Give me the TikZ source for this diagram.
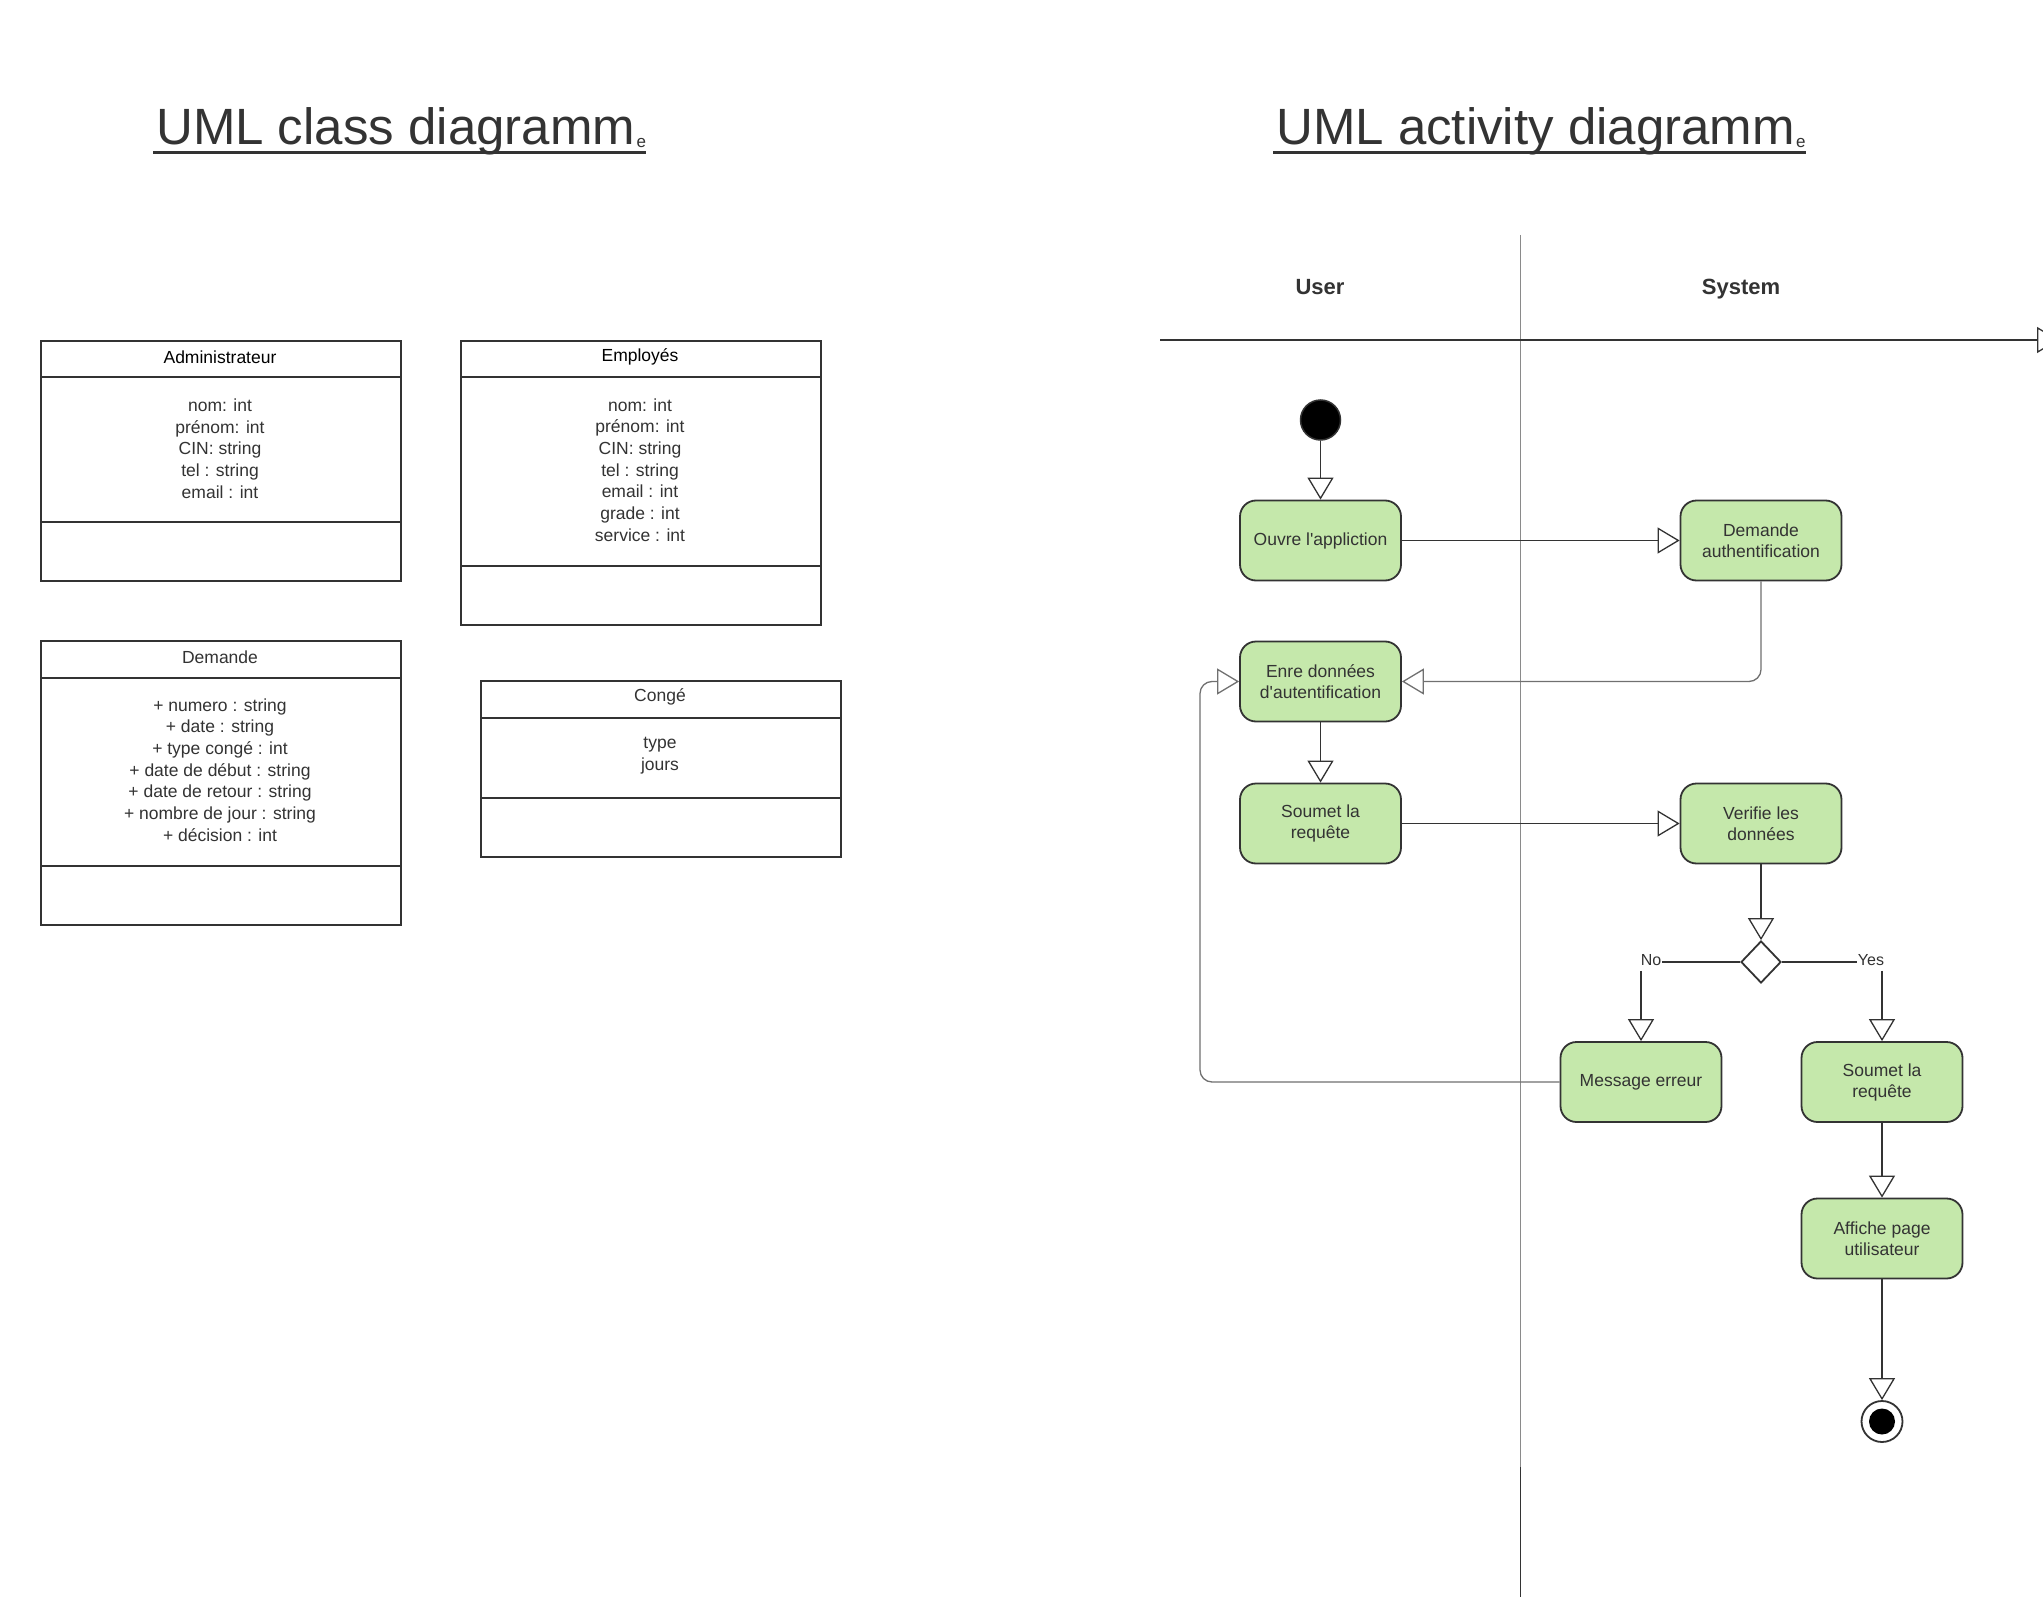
\documentclass[tikz,border=0pt]{standalone}
\usepackage{fontspec}
\setmainfont{Liberation Sans}[Ligatures=TeXOff]
\usetikzlibrary{arrows.meta,shapes.geometric,calc}
\definecolor{dk}{HTML}{333333}
\definecolor{actgreen}{HTML}{C5E8AB}
\definecolor{lanegray}{HTML}{8A8A8A}
\definecolor{retgray}{HTML}{707070}
\begin{document}
\begin{tikzpicture}[x=1pt,y=-1pt,
  titlefont/.style={font=\fontsize{51}{56}\selectfont, text=dk, inner sep=0pt},
  subfont/.style={font=\fontsize{17}{18}\selectfont, text=dk, inner sep=0pt},
  classbox/.style={draw=dk, line width=1.8pt, anchor=north west, inner sep=0pt},
  classhead/.style={font=\fontsize{17.5}{21.7}\selectfont, text=black, inner sep=0pt},
  classattr/.style={font=\fontsize{17.5}{21.7}\selectfont, text=dk, align=center, inner sep=0pt},
  lane/.style={font=\fontsize{22}{26}\selectfont\bfseries, text=dk, anchor=base},
  act/.style={draw=dk, line width=1.8pt, fill=actgreen, rounded corners=16pt,
    minimum width=161pt, minimum height=80pt, align=center, inner sep=2pt,
    font=\fontsize{17.5}{21}\selectfont, text=dk},
  arr/.style={draw=dk, line width=1.3pt, -{Triangle[length=22pt,width=26pt,fill=white]}},
  garr/.style={draw=retgray, line width=1.3pt, rounded corners=12pt, -{Triangle[length=22pt,width=26pt,fill=white]}},
  plain/.style={draw=dk, line width=1.3pt},
  elabel/.style={font=\fontsize{16}{18}\selectfont, text=dk, inner sep=1pt},
]
\useasboundingbox (0,0) rectangle (2043,1597);
\clip (0,0) rectangle (2043,1597);
\fill[white] (0,0) rectangle (2043,1597);

% ---------- titles ----------
\node[titlefont, anchor=base west] (t1) at (156,145) {UML class diagramm};
\node[subfont, anchor=base west] (t1e) at ($(t1.base east)+(1,3)$) {e};
\draw[dk, line width=3pt] ($(t1.base west)+(-3,8)$) -- ($(t1e.base east)+(0,5)$);

\node[titlefont, anchor=base west] (t2) at (1276,145) {UML activity diagramm};
\node[subfont, anchor=base west] (t2e) at ($(t2.base east)+(1,3)$) {e};
\draw[dk, line width=3pt] ($(t2.base west)+(-3,8)$) -- ($(t2e.base east)+(0,5)$);

% ---------- class diagram ----------
% Administrateur
\node[classbox, minimum width=360pt, minimum height=240pt] (adm) at (40,340) {};
\draw[dk, line width=1.8pt] (40,377) -- (400,377);
\draw[dk, line width=1.8pt] (40,522) -- (400,522);
\node[classhead] (admh) at (220,357) {Administrateur};
\node[classattr] (adma) at (220,448.5) {nom: int\\prénom: int\\CIN: string\\tel : string\\email : int};

% Employes
\node[classbox, minimum width=360pt, minimum height=284pt] (emp) at (460,340) {};
\draw[dk, line width=1.8pt] (460,377) -- (820,377);
\draw[dk, line width=1.8pt] (460,566) -- (820,566);
\node[classhead] (emph) at (640,357) {Employés};
\node[classattr] (empa) at (640,470) {nom: int\\prénom: int\\CIN: string\\tel : string\\email : int\\grade : int\\service : int};

% Demande
\node[classbox, minimum width=360pt, minimum height=284pt] (dem) at (40,640) {};
\draw[dk, line width=1.8pt] (40,678) -- (400,678);
\draw[dk, line width=1.8pt] (40,866) -- (400,866);
\node[classhead, text=dk] (demh) at (220,657) {Demande};
\node[classattr] (dema) at (220,770) {+ numero : string\\+ date : string\\+ type congé : int\\+ date de début : string\\+ date de retour : string\\+ nombre de jour : string\\+ décision : int};

% Conge
\node[classbox, minimum width=360pt, minimum height=176pt] (cng) at (480,680) {};
\draw[dk, line width=1.8pt] (480,718) -- (840,718);
\draw[dk, line width=1.8pt] (480,798) -- (840,798);
\node[classhead, text=dk] (cngh) at (660,697) {Congé};
\node[classattr] (cnga) at (660,756) {type\\jours};

% ---------- activity diagram: swimlanes ----------
\coordinate (vtop) at (1520.5,235);
\coordinate (vmid) at (1520.5,1467);
\coordinate (vbot) at (1520.5,1600);
\draw[lanegray, line width=1.2pt] (vtop) -- (vmid);
\draw[dk, line width=1.3pt] (vmid) -- (vbot);
\coordinate (hl) at (1160,340);
\coordinate (hr) at (2059,340);
\draw[arr] (hl) -- (hr);
\node[lane] (user) at (1320,295) {User};
\node[lane] (system) at (1741,295) {System};

% ---------- activity nodes ----------
\node[circle, fill=black, draw=dk, line width=1.5pt, minimum size=40pt, inner sep=0pt] (init) at (1320.5,420) {};
\node[act] (ouvre) at (1320.5,540.5) {Ouvre l'appliction};
\node[act] (demauth) at (1761,540.5) {Demande\\authentification};
\node[act] (enre) at (1320.5,681.5) {Enre données\\d'autentification};
\node[act] (soumet1) at (1320.5,823.5) {Soumet la\\requête};
\node[act] (verif) at (1761,823.5) {Verifie les\\données};
\node[diamond, draw=dk, line width=1.8pt, fill=white, minimum width=40pt, minimum height=42pt, inner sep=0pt] (dec) at (1761,962) {};
\node[act] (msg) at (1641,1082) {Message erreur};
\node[act] (soumet2) at (1882,1082) {Soumet la\\requête};
\node[act] (affiche) at (1882,1238.5) {Affiche page\\utilisateur};
\node[circle, draw=dk, line width=1.8pt, fill=white, minimum size=41pt, inner sep=0pt] (final) at (1882,1421.5) {};
\node[circle, fill=black, minimum size=26pt, inner sep=0pt] (finalin) at (final.center) {};

\node[elabel] (nolab) at (1651,960) {No};
\node[elabel] (yeslab) at (1871,960) {Yes};

% ---------- connectors ----------
\draw[arr] (init) -- (ouvre);
\draw[arr] (ouvre) -- (demauth);
\draw[garr] (demauth.south) |- (enre.east);
\draw[arr] (enre) -- (soumet1);
\draw[arr] (soumet1) -- (verif);
\draw[arr] (verif) -- (dec);
\draw[plain] (dec.west) -- (dec.west -| nolab.east);
\draw[plain] (dec.east) -- (dec.east -| yeslab.west);
\draw[arr] ($(nolab.south -| msg.north)+(0,4)$) -- (msg.north);
\draw[arr] ($(yeslab.south -| soumet2.north)+(0,4)$) -- (soumet2.north);
\draw[garr] (msg.west) -- (1200,1082) -- (1200,681.5) -- (enre.west);
\draw[arr] (soumet2) -- (affiche);
\draw[arr] (affiche) -- (final);
\end{tikzpicture}
\end{document}
